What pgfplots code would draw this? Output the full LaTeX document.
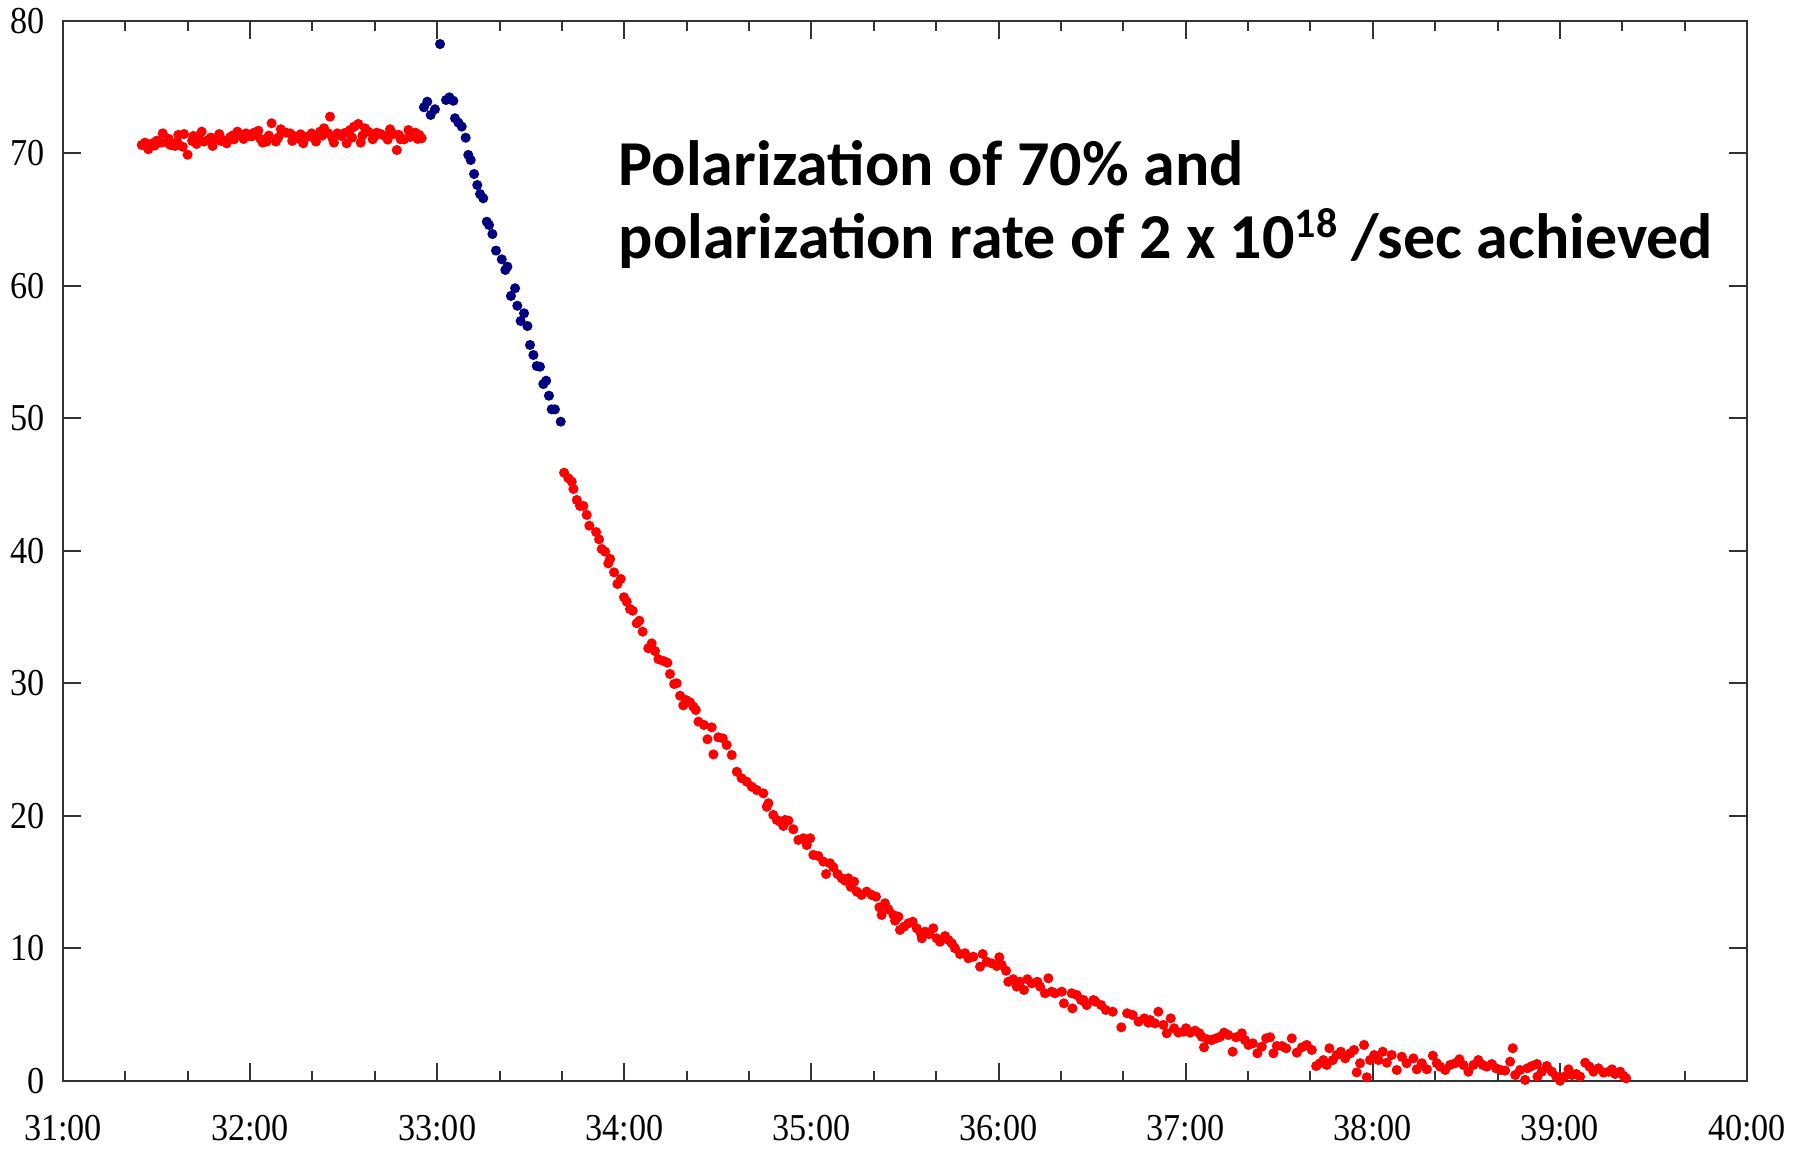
\documentclass[border=0pt]{standalone}
\usepackage{pgfplots}
\pgfplotsset{compat=1.18}
\usepackage{pgfplotstable}
\usepackage{graphicx}
\usepackage{fontspec}
\setmainfont{Liberation Serif}
\newfontfamily\notefont{Carlito}

\definecolor{ptred}{RGB}{255,0,0}
\definecolor{ptblue}{RGB}{0,0,128}
\newcommand\sq[1]{\scalebox{0.9}[1]{#1}}

% polarization (%) vs. time (minutes)
\pgfplotstableread{
x y
31.421 70.64
31.438 70.82
31.445 70.55
31.456 70.32
31.479 70.77
31.490 70.60
31.501 70.97
31.522 70.82
31.533 71.52
31.554 70.82
31.565 71.10
31.575 70.64
31.599 70.57
31.610 70.85
31.616 71.40
31.640 70.51
31.647 71.47
31.666 69.91
31.690 70.95
31.697 71.32
31.714 70.72
31.730 71.05
31.741 71.65
31.754 70.90
31.777 71.02
31.790 71.20
31.800 70.57
31.818 71.15
31.835 71.47
31.845 70.95
31.857 71.02
31.875 70.77
31.893 71.22
31.905 71.35
31.914 71.07
31.932 71.65
31.955 71.40
31.965 71.10
31.978 71.52
31.996 71.32
32.010 71.30
32.021 71.57
32.044 71.72
32.055 71.10
32.067 70.82
32.089 70.90
32.100 71.35
32.115 72.28
32.138 70.90
32.150 71.20
32.164 71.83
32.192 71.57
32.213 71.52
32.225 70.95
32.235 71.32
32.258 71.15
32.270 71.45
32.284 70.77
32.306 71.27
32.329 71.52
32.340 71.20
32.352 70.90
32.374 71.65
32.385 71.35
32.395 71.90
32.418 71.52
32.427 72.78
32.440 71.15
32.448 70.82
32.466 71.52
32.489 71.32
32.505 71.55
32.516 70.77
32.534 71.77
32.545 71.20
32.555 72.02
32.578 72.23
32.591 70.82
32.600 71.35
32.614 71.90
32.632 71.65
32.655 71.07
32.665 71.30
32.677 71.57
32.698 71.47
32.721 71.32
32.735 71.05
32.748 71.83
32.766 71.47
32.784 70.26
32.795 71.40
32.805 71.07
32.823 71.07
32.846 71.77
32.855 71.25
32.864 71.52
32.883 71.57
32.895 71.10
32.904 71.40
32.917 71.15
}\plateau

\pgfplotstableread{
x y
32.929 73.49
32.947 73.91
32.965 72.91
32.988 73.34
33.015 78.26
33.047 74.04
33.065 74.24
33.086 73.98
33.095 72.66
33.113 72.33
33.131 72.03
33.152 71.19
33.166 69.89
33.179 69.51
33.197 68.45
33.214 67.62
33.229 66.94
33.246 66.62
33.265 64.85
33.277 64.60
33.295 63.92
33.314 62.67
33.345 62.01
33.364 61.21
33.375 61.46
33.394 59.25
33.416 59.83
33.428 58.51
33.446 57.36
33.464 57.94
33.482 56.98
33.496 55.55
33.514 54.79
33.532 53.96
33.549 53.91
33.567 52.60
33.582 52.85
33.597 51.72
33.612 50.69
33.629 50.69
33.660 49.76
}\pumping

\pgfplotstableread{
x y
33.678 45.91
33.701 45.49
33.719 45.23
33.728 44.68
33.746 43.85
33.763 43.40
33.781 43.40
33.799 42.72
33.813 41.91
33.849 41.43
33.865 40.88
33.879 40.15
33.897 39.95
33.914 39.07
33.924 39.40
33.945 38.39
33.963 37.51
33.981 37.89
33.998 36.51
34.013 36.17
34.030 35.62
34.045 35.49
34.066 34.54
34.080 34.74
34.098 33.91
34.128 32.66
34.146 33.03
34.164 32.45
34.182 31.83
34.209 31.70
34.230 31.57
34.244 30.72
34.266 29.96
34.280 30.02
34.298 29.08
34.315 28.35
34.330 28.75
34.351 28.58
34.369 28.25
34.382 28.00
34.396 27.12
34.426 26.87
34.444 25.79
34.467 26.69
34.476 24.65
34.502 25.94
34.526 25.86
34.547 25.36
34.574 24.60
34.601 23.34
34.627 22.85
34.654 22.59
34.681 22.21
34.708 21.96
34.743 21.71
34.761 20.70
34.770 20.96
34.796 20.08
34.815 19.70
34.832 19.57
34.850 19.25
34.859 19.70
34.877 19.65
34.903 19.00
34.930 18.19
34.957 18.32
34.975 17.81
34.993 18.32
35.010 17.06
35.037 16.98
35.064 16.55
35.078 15.62
35.099 16.43
35.117 16.13
35.139 15.62
35.162 15.30
35.180 15.12
35.197 15.30
35.210 14.66
35.228 15.04
35.242 14.29
35.268 14.04
35.295 14.29
35.322 14.04
35.345 13.91
35.363 13.11
35.375 12.53
35.393 13.41
35.411 12.96
35.438 12.53
35.447 12.10
35.465 12.40
35.473 11.40
35.495 11.65
35.518 11.90
35.541 12.02
35.563 11.52
35.584 11.15
35.590 10.77
35.607 11.27
35.630 11.09
35.651 11.52
35.669 10.77
35.687 10.51
35.714 10.94
35.732 10.64
35.750 10.39
35.767 10.02
35.794 9.58
35.821 9.64
35.839 9.26
35.865 9.38
35.901 8.63
35.915 9.58
35.937 9.00
35.963 8.88
35.990 8.68
36.004 9.34
36.017 8.75
36.040 8.32
36.052 7.49
36.079 7.68
36.097 7.12
36.115 7.49
36.136 6.87
36.154 7.68
36.177 7.37
36.207 7.49
36.222 7.12
36.248 6.62
36.266 7.75
36.284 6.74
36.302 6.62
36.338 6.74
36.349 5.86
36.391 6.62
36.395 5.48
36.418 6.49
36.441 6.11
36.454 6.11
36.471 5.73
36.507 6.11
36.518 5.99
36.548 5.73
36.573 5.36
36.610 5.23
36.656 4.05
36.687 5.11
36.717 4.98
36.748 4.48
36.779 4.73
36.800 4.40
36.810 4.60
36.836 4.35
36.854 5.23
36.881 4.23
36.899 3.60
36.920 4.73
36.938 3.98
36.961 3.65
36.988 3.72
37.002 3.98
37.024 3.65
37.050 3.80
37.073 3.60
37.086 3.34
37.098 2.54
37.116 3.15
37.139 3.09
37.162 3.22
37.184 3.34
37.205 3.65
37.228 3.47
37.251 2.21
37.269 3.30
37.300 3.60
37.317 3.09
37.335 2.72
37.359 2.84
37.383 2.09
37.407 2.59
37.430 3.22
37.451 3.30
37.469 2.09
37.487 2.64
37.514 2.64
37.537 2.47
37.567 3.22
37.594 2.14
37.621 2.54
37.647 2.72
37.674 2.34
37.697 1.13
37.718 1.34
37.736 1.58
37.754 1.21
37.768 2.47
37.786 1.58
37.807 1.96
37.829 2.21
37.852 1.71
37.879 2.09
37.900 2.34
37.914 0.65
37.932 1.34
37.953 2.72
37.968 0.28
37.985 1.58
38.007 1.96
38.030 1.58
38.053 2.21
38.075 1.38
38.101 1.96
38.128 0.83
38.155 1.83
38.181 1.34
38.217 1.71
38.235 0.88
38.262 1.34
38.289 0.88
38.321 1.91
38.342 1.34
38.360 1.08
38.387 0.83
38.413 1.21
38.440 1.34
38.463 1.64
38.484 1.21
38.511 0.70
38.538 1.21
38.564 1.58
38.588 1.21
38.609 1.08
38.636 1.28
38.659 0.96
38.684 0.83
38.707 0.78
38.734 1.46
38.748 2.47
38.761 0.45
38.787 0.83
38.814 0.08
38.826 0.96
38.850 1.13
38.877 1.28
38.880 0.33
38.903 0.70
38.930 1.13
38.957 0.70
38.980 0.33
39.001 0.02
39.023 0.33
39.046 0.88
39.064 0.45
39.087 0.53
39.108 0.33
39.135 1.38
39.158 1.08
39.179 0.70
39.206 0.96
39.233 0.63
39.260 0.70
39.278 0.88
39.295 0.53
39.322 0.70
39.340 0.38
39.354 0.20
}\decay

\begin{document}
\begin{tikzpicture}
\begin{axis}[
  scale only axis,
  width=421pt, height=265pt,
  xmin=31, xmax=40, ymin=0, ymax=80,
  xtick={31,32,...,40},
  xticklabels={\sq{31:00},\sq{32:00},\sq{33:00},\sq{34:00},\sq{35:00},\sq{36:00},\sq{37:00},\sq{38:00},\sq{39:00},\sq{40:00}},
  minor x tick num=2,
  ytick={0,10,...,80},
  yticklabel={\sq{\pgfmathprintnumber{\tick}}},
  tick align=inside,
  major tick length=4.5pt,
  minor tick length=2.5pt,
  axis line style={line width=0.6pt, black!80},
  every tick/.style={black!80, line width=0.5pt},
  tick label style={font=\fontsize{9.5}{10}\selectfont},
  /pgf/number format/assume math mode=true,
  xticklabel style={yshift=-5pt},
  yticklabel style={xshift=-1pt},
  clip=false,
]
\addplot[only marks, mark=*, mark size=1.05pt, ptred, mark options={draw=ptred, fill=ptred}] table {\plateau};
\addplot[only marks, mark=*, mark size=1.05pt, ptblue, mark options={draw=ptblue, fill=ptblue}] table {\pumping};
\addplot[only marks, mark=*, mark size=1.05pt, ptred, mark options={draw=ptred, fill=ptred}] table {\decay};

\node[anchor=base west, inner sep=0pt, font=\notefont\bfseries\fontsize{16}{18}\selectfont]
  at (axis cs:33.966,67.6) {Polarization of 70\% and};
\node[anchor=base west, inner sep=0pt, font=\notefont\bfseries\fontsize{16}{18}\selectfont]
  at (axis cs:33.966,62.1) {polarization rate of 2 x 10{\fontsize{10.5}{11}\selectfont\raisebox{0.5em}{18}} /sec achieved};
\end{axis}
\pgfresetboundingbox
\path ([xshift=-15.75pt,yshift=-17pt]current axis.south west)
  rectangle ([xshift=13.5pt,yshift=5.25pt]current axis.north east);
\end{tikzpicture}
\end{document}
